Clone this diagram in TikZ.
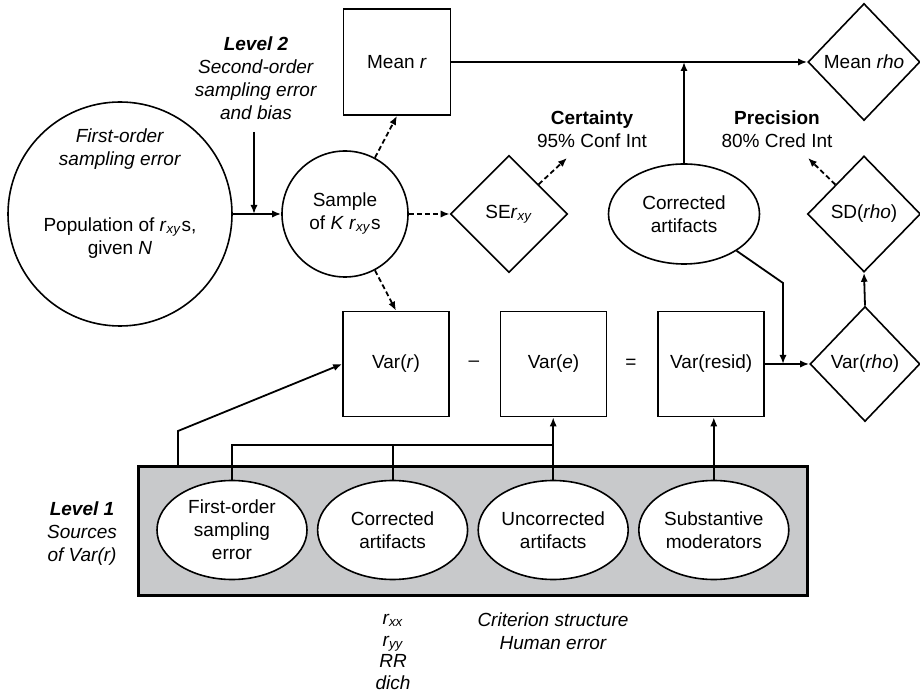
\documentclass[tikz,border=0pt]{standalone}
\usepackage{fontspec}
\setmainfont{Liberation Sans}
\usepackage{tikz}
\usetikzlibrary{arrows.meta, positioning, shapes.geometric}
\usepackage{xcolor}
\definecolor{panelgray}{RGB}{200,201,203}
\newcommand{\rsub}[1]{\textit{r}\textsubscript{\textit{#1}}}

\begin{document}
\begin{tikzpicture}[x=0.5pt, y=-0.5pt, 
font=\fontsize{9.5}{11.5}\selectfont, 
box/.style={draw, 
rectangle, 
line width=0.8pt, 
minimum width=53pt, 
minimum height=52.5pt, 
align=center}, 
roundnode/.style={draw, circle, line width=0.8pt, inner sep=0pt, align=center}, 
oval/.style={draw, ellipse, fill=white, line width=0.8pt, minimum width=75pt, minimum height=49.5pt, inner sep=0pt, align=center}, 
gem/.style={draw, diamond, line width=0.8pt, inner sep=0pt, align=center}, 
txt/.style={align=center}, 
arrow/.style={-{Latex[length=4.5pt, width=3.6pt]}, line width=0.9pt}, 
dasharrow/.style={arrow, dash pattern=on 2.5pt off 1.5pt}, 
link/.style={line width=0.9pt} 
]

\useasboundingbox (0,0) rectangle (920,694);

\node[roundnode, minimum size=112pt] (pop) at (120,214) {};
\node[txt] (foerr) at (120,149) {\textit{First-order}\\\textit{sampling error}};
\node[txt] (poptxt) at (120,238) {Population of \rsub{xy}s,\\given \textit{N}};
\node[roundnode, minimum size=63pt] (samp) at (345,214) {Sample\\of \textit{K} \rsub{xy}s};
\node[txt] (lvl2) at (256,78) {\textbf{\textit{Level 2}}\\\textit{Second-order}\\\textit{sampling error}\\\textit{and bias}};
\node[box, minimum width=53.5pt, minimum height=53pt] (meanr) at (397,62) {Mean \textit{r}};
\node[gem, minimum width=58.5pt, minimum height=58.5pt] (se) at (509,214) {SE\rsub{xy}};
\node[txt] (cert) at (592,129) {\textbf{Certainty}\\95\% Conf Int};
\node[oval, minimum width=75.5pt, minimum height=50pt] (ca) at (684,214) {Corrected\\artifacts};
\node[txt] (prec) at (777,129) {\textbf{Precision}\\80\% Cred Int};
\node[gem, minimum width=56pt, minimum height=58.5pt] (meanrho) at (864,62) {Mean \textit{rho}};
\node[gem, minimum width=56.5pt, minimum height=58pt] (sdrho) at (864,214) {SD(\textit{rho})};

\node[box] (varr) at (396,364) {Var(\textit{r})};
\node[box, right=25pt of varr] (vare) {Var(\textit{e})};
\node[box, right=25pt of vare] (vres) {Var(resid)};
\node[gem, minimum width=55pt, minimum height=57.5pt] (vrho) at (865,364) {Var(\textit{rho})};
\node (minus) at (474,364) {--};
\node (equals) at (631,364) {=};

\node[draw, fill=panelgray, line width=1.5pt, minimum width=334.5pt, minimum height=64pt] (srcbox) at (472.5,531) {};
\node[oval] (sampe) at (232,530) {First-order\\sampling\\error};
\node[oval, right=4.5pt of sampe] (corr) {Corrected\\artifacts};
\node[oval, right=4.5pt of corr] (uncorr) {Uncorrected\\artifacts};
\node[oval, right=4.5pt of uncorr] (subst) {Substantive\\moderators};
\node[txt] (lvl1) at (82,534) {\textbf{\textit{Level 1}}\\\textit{Sources}\\\textit{of Var(r)}};
\node[txt, font=\fontsize{9.5}{10.7}\selectfont\itshape] (corrlist) at (393,652) {\rsub{xx}\\\rsub{yy}\\RR\\dich};
\node[txt, font=\fontsize{9.5}{11.5}\selectfont\itshape] (uncorrlist) at (553,631) {Criterion structure\\Human error};

\coordinate (l2start) at (254,132);
\coordinate (certtip) at (567,158);
\coordinate (prectip) at (808,158);
\coordinate (bend) at (783,283);
\coordinate (knee) at (178,431);
\coordinate (rail) at (232,445);

\draw[arrow] (pop.east) -- (samp.west);
\draw[arrow] (l2start) -- (l2start |- samp.west);
\draw[dasharrow] (samp.62) -- (meanr.south);
\draw[dasharrow] (samp.-62) -- (varr.north);
\draw[dasharrow] (samp.east) -- (se.west);
\draw[dasharrow] (se.north east) -- (certtip);
\draw[dasharrow] (sdrho.north west) -- (prectip);
\draw[arrow] (meanr.east) -- (meanrho.west);
\draw[arrow] (ca.north) -- (ca.north |- meanr.east);
\draw[arrow] (ca.-35) -- (bend) -- (bend |- vres.east);
\draw[arrow] (vres.east) -- (vrho.west);
\draw[arrow] (vrho.north) -- (sdrho.south);

\draw[arrow] (knee |- srcbox.north) -- (knee) -- (varr.west);
\draw[link] (sampe.north) -- (rail) -- (rail -| uncorr.north);
\draw[link] (corr.north) -- (corr.north |- rail);
\draw[arrow] (uncorr.north) -- (uncorr.north |- vare.south);
\draw[arrow] (subst.north) -- (subst.north |- vres.south);

\end{tikzpicture}
\end{document}
